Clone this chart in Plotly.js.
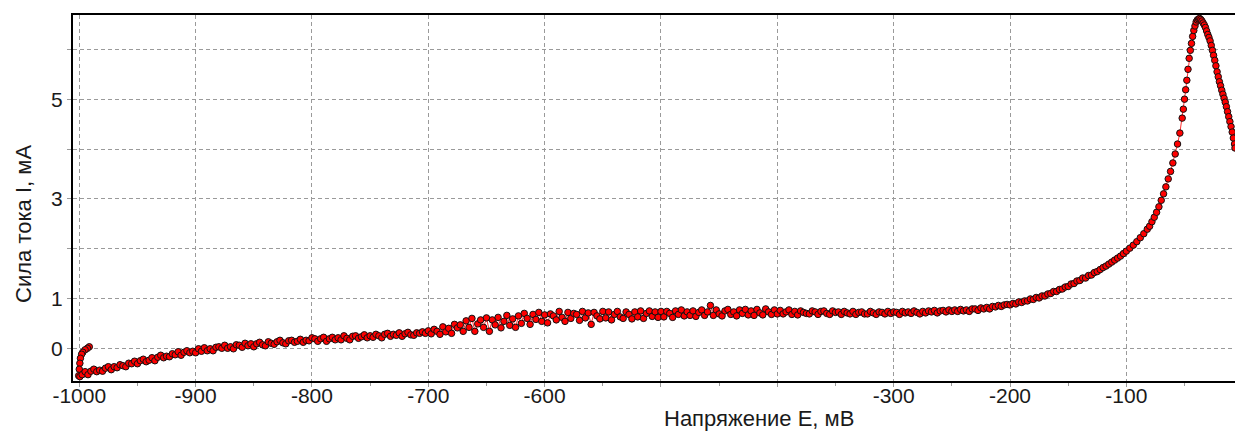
<!DOCTYPE html>
<html>
<head>
<meta charset="utf-8">
<script src="https://cdn.plot.ly/plotly-3.0.1.min.js"></script>
<style>html,body{margin:0;padding:0;background:#fff;}#chart{width:1235px;height:431px;}</style>
</head>
<body>
<div id="chart"></div>
<script>
// Voltage E, mV (scan start branch, then main sweep)
const voltage = [
 -991.4, -993, -995, -997, -998, -999, -999.5, -1000, -1000.5, -999.5,
 -997.5, -995, -992.5, -990, -987.5, -985, -982.5, -980, -977.5, -975,
 -972.5, -970, -967.5, -965, -962.5, -960, -957.5, -955, -952.5, -950,
 -947.5, -945, -942.5, -940, -937.5, -935, -932.5, -930, -927.5, -925,
 -922.5, -920, -917.5, -915, -912.5, -910, -907.5, -905, -902.5, -900,
 -897.5, -895, -892.5, -890, -887.5, -885, -882.5, -880, -877.5, -875,
 -872.5, -870, -867.5, -865, -862.5, -860, -857.5, -855, -852.5, -850,
 -847.5, -845, -842.5, -840, -837.5, -835, -832.5, -830, -827.5, -825,
 -822.5, -820, -817.5, -815, -812.5, -810, -807.5, -805, -802.5, -800,
 -797.5, -795, -792.5, -790, -787.5, -785, -782.5, -780, -777.5, -775,
 -772.5, -770, -767.5, -765, -762.5, -760, -757.5, -755, -752.5, -750,
 -747.5, -745, -742.5, -740, -737.5, -735, -732.5, -730, -727.5, -725,
 -722.5, -720, -717.5, -715, -712.5, -710, -707.5, -705, -702.5, -700,
 -697.5, -695, -692.5, -690, -687.5, -685, -682.5, -680, -677.5, -675,
 -672.5, -670, -667.5, -665, -662.5, -660, -657.5, -655, -652.5, -650,
 -647.5, -645, -642.5, -640, -637.5, -635, -632.5, -630, -627.5, -625,
 -622.5, -620, -617.5, -615, -612.5, -610, -607.5, -605, -602.5, -600,
 -597.5, -595, -592.5, -590, -587.5, -585, -582.5, -580, -577.5, -575,
 -572.5, -570, -567.5, -565, -562.5, -560, -557.5, -555, -552.5, -550,
 -547.5, -545, -542.5, -540, -537.5, -535, -532.5, -530, -527.5, -525,
 -522.5, -520, -517.5, -515, -512.5, -510, -507.5, -505, -502.5, -500,
 -497.5, -495, -492.5, -490, -487.5, -485, -482.5, -480, -477.5, -475,
 -472.5, -470, -467.5, -465, -462.5, -460, -457.5, -455, -452.5, -450,
 -447.5, -445, -442.5, -440, -437.5, -435, -432.5, -430, -427.5, -425,
 -422.5, -420, -417.5, -415, -412.5, -410, -407.5, -405, -402.5, -400,
 -397.5, -395, -392.5, -390, -387.5, -385, -382.5, -380, -377.5, -375,
 -372.5, -370, -367.5, -365, -362.5, -360, -357.5, -355, -352.5, -350,
 -347.5, -345, -342.5, -340, -337.5, -335, -332.5, -330, -327.5, -325,
 -322.5, -320, -317.5, -315, -312.5, -310, -307.5, -305, -302.5, -300,
 -297.5, -295, -292.5, -290, -287.5, -285, -282.5, -280, -277.5, -275,
 -272.5, -270, -267.5, -265, -262.5, -260, -257.5, -255, -252.5, -250,
 -247.5, -245, -242.5, -240, -237.5, -235, -232.5, -230, -227.5, -225,
 -222.5, -220, -217.5, -215, -212.5, -210, -207.5, -205, -202.5, -200,
 -197.5, -195, -192.5, -190, -187.5, -185, -182.5, -180, -177.5, -175,
 -172.5, -170, -167.5, -165, -162.5, -160, -157.5, -155, -152.5, -150,
 -147.5, -145, -142.5, -140, -137.5, -135, -132.5, -130, -127.5, -125,
 -122.5, -120, -117.5, -115, -112.5, -110, -107.5, -105, -102.5, -100,
 -97, -94, -91, -88, -85, -82, -80, -78, -76, -74,
 -72, -70, -68, -66, -64, -62, -60, -58, -56, -54,
 -52, -51, -50, -49, -48, -47, -46, -45, -44, -43,
 -42, -41, -40, -39, -38, -37, -36, -35, -34, -33,
 -32, -31, -30, -29, -28, -27, -26, -25, -24, -23,
 -22, -21, -20, -19, -18, -17, -16, -15, -14, -13,
 -12, -11, -10, -9, -8, -7, -6.6
];
// Current I, mA
const current = [
 0.03, 0.00, -0.03, -0.08, -0.12, -0.20, -0.30, -0.42, -0.55, -0.57,
 -0.53, -0.47, -0.53, -0.46, -0.42, -0.47, -0.44, -0.46, -0.40, -0.37,
 -0.43, -0.37, -0.39, -0.33, -0.35, -0.37, -0.30, -0.31, -0.26, -0.31,
 -0.25, -0.22, -0.27, -0.24, -0.19, -0.25, -0.18, -0.14, -0.19, -0.16,
 -0.17, -0.11, -0.13, -0.07, -0.14, -0.08, -0.05, -0.09, -0.06, -0.09,
 -0.01, -0.06, 0.01, -0.05, -0.01, -0.05, 0.02, 0.03, 0.00, 0.06,
 0.00, 0.03, -0.01, 0.07, 0.06, 0.02, 0.10, 0.05, 0.09, 0.03,
 0.09, 0.12, 0.07, 0.05, 0.13, 0.10, 0.08, 0.13, 0.16, 0.11,
 0.09, 0.15, 0.16, 0.12, 0.14, 0.18, 0.12, 0.16, 0.15, 0.21,
 0.19, 0.14, 0.19, 0.22, 0.14, 0.19, 0.22, 0.17, 0.21, 0.17,
 0.25, 0.20, 0.17, 0.24, 0.25, 0.20, 0.23, 0.27, 0.21, 0.25,
 0.22, 0.28, 0.25, 0.21, 0.28, 0.30, 0.24, 0.28, 0.26, 0.31,
 0.24, 0.29, 0.32, 0.27, 0.26, 0.31, 0.30, 0.33, 0.30, 0.35,
 0.29, 0.38, 0.34, 0.28, 0.43, 0.33, 0.40, 0.30, 0.48, 0.41,
 0.47, 0.34, 0.55, 0.42, 0.60, 0.34, 0.49, 0.57, 0.42, 0.61,
 0.34, 0.57, 0.47, 0.62, 0.41, 0.54, 0.66, 0.46, 0.59, 0.42,
 0.65, 0.50, 0.70, 0.60, 0.48, 0.68, 0.58, 0.72, 0.54, 0.67,
 0.51, 0.69, 0.65, 0.57, 0.74, 0.62, 0.54, 0.72, 0.60, 0.70,
 0.68, 0.56, 0.74, 0.61, 0.71, 0.48, 0.72, 0.65, 0.59, 0.74,
 0.61, 0.73, 0.57, 0.68, 0.74, 0.63, 0.60, 0.73, 0.68, 0.59,
 0.73, 0.63, 0.75, 0.60, 0.70, 0.75, 0.64, 0.73, 0.62, 0.74,
 0.63, 0.74, 0.70, 0.62, 0.75, 0.68, 0.77, 0.65, 0.73, 0.66,
 0.75, 0.64, 0.72, 0.77, 0.66, 0.73, 0.86, 0.66, 0.77, 0.69,
 0.65, 0.75, 0.78, 0.68, 0.73, 0.65, 0.77, 0.70, 0.78, 0.67,
 0.75, 0.66, 0.78, 0.71, 0.67, 0.79, 0.73, 0.68, 0.77, 0.69,
 0.76, 0.69, 0.73, 0.77, 0.68, 0.74, 0.67, 0.75, 0.72, 0.70,
 0.69, 0.75, 0.73, 0.68, 0.74, 0.75, 0.70, 0.68, 0.75, 0.72,
 0.73, 0.68, 0.74, 0.71, 0.69, 0.74, 0.68, 0.72, 0.73, 0.69,
 0.69, 0.74, 0.71, 0.68, 0.73, 0.72, 0.69, 0.74, 0.70, 0.73,
 0.72, 0.68, 0.74, 0.71, 0.73, 0.70, 0.75, 0.72, 0.69, 0.74,
 0.71, 0.75, 0.73, 0.76, 0.71, 0.75, 0.76, 0.73, 0.77, 0.74,
 0.77, 0.74, 0.78, 0.75, 0.77, 0.74, 0.79, 0.79, 0.76, 0.81,
 0.79, 0.82, 0.79, 0.84, 0.83, 0.86, 0.84, 0.87, 0.88, 0.87,
 0.90, 0.89, 0.93, 0.92, 0.95, 0.95, 0.99, 0.98, 1.02, 1.01,
 1.05, 1.05, 1.09, 1.10, 1.14, 1.14, 1.18, 1.19, 1.23, 1.24,
 1.29, 1.30, 1.35, 1.36, 1.41, 1.41, 1.46, 1.47, 1.52, 1.54,
 1.58, 1.62, 1.65, 1.69, 1.73, 1.77, 1.81, 1.85, 1.90, 1.95,
 2.01, 2.07, 2.14, 2.22, 2.30, 2.39, 2.45, 2.54, 2.63, 2.73,
 2.84, 2.97, 3.10, 3.24, 3.40, 3.55, 3.72, 3.90, 4.10, 4.32,
 4.62, 4.80, 5.00, 5.19, 5.38, 5.60, 5.82, 5.98, 6.12, 6.26,
 6.38, 6.47, 6.55, 6.59, 6.61, 6.62, 6.60, 6.57, 6.53, 6.49,
 6.44, 6.37, 6.30, 6.24, 6.17, 6.08, 5.98, 5.88, 5.78, 5.67,
 5.55, 5.45, 5.35, 5.27, 5.18, 5.10, 5.02, 4.94, 4.85, 4.75,
 4.65, 4.55, 4.45, 4.34, 4.22, 4.10, 4.02
];
const xTickVals = [-1000, -900, -800, -700, -600, -500, -400, -300, -200, -100];
const xTickText = ['-1000', '-900', '-800', '-700', '-600', '', '', '-300', '-200', '-100'];
const yTickVals = [0, 1, 2, 3, 4, 5, 6];
const yTickText = ['0', '1', '', '3', '', '5', ''];
const xTitle = 'Напряжение E, мВ';
const yTitle = 'Сила тока I, мА';

const font = 'Liberation Sans, Arial, sans-serif';
const tickFont = {family: font, size: 21, color: '#1a1a1a'};
const titleFont = {family: font, size: 22, color: '#1a1a1a'};
const trace = {
  x: voltage, y: current, type: 'scatter', mode: 'lines+markers',
  line: {color: '#ff3030', width: 1},
  marker: {color: '#ff0000', size: 6.5, symbol: 'circle', line: {color: '#111', width: 1}},
  hoverinfo: 'skip'
};
const layout = {
  width: 1235, height: 431,
  margin: {l: 73, r: 0, t: 15, b: 50, pad: 0},
  paper_bgcolor: '#fff', plot_bgcolor: '#fff',
  showlegend: false,
  font: {family: font, size: 21, color: '#1a1a1a'},
  xaxis: {
    range: [-1005.4, -6.6], tickmode: 'array', tickvals: xTickVals, ticktext: xTickText,
    showgrid: true, gridcolor: '#9a9a9a', gridwidth: 1, griddash: '4px,3px',
    showline: true, linecolor: '#000', linewidth: 2, mirror: true,
    ticks: 'outside', ticklen: 4, tickcolor: '#9a9a9a', tickwidth: 1,
    ticklabelstandoff: -9,
    minor: {dtick: 50, tick0: 0, ticks: 'outside', ticklen: 3, tickcolor: '#9a9a9a', showgrid: false},
    zeroline: false, tickfont: tickFont
  },
  yaxis: {
    range: [-0.657, 6.69], tickmode: 'array', tickvals: yTickVals, ticktext: yTickText,
    showgrid: true, gridcolor: '#9a9a9a', gridwidth: 1, griddash: '4px,3px',
    showline: true, linecolor: '#000', linewidth: 2, mirror: false,
    ticks: 'outside', ticklen: 4, tickcolor: '#9a9a9a', tickwidth: 1,
    zeroline: false, tickfont: tickFont
  },
  annotations: [
    {text: xTitle, xref: 'paper', yref: 'paper', x: 0.5904, y: -0.1038, xanchor: 'center', yanchor: 'middle',
     showarrow: false, font: titleFont},
    {text: yTitle, xref: 'paper', yref: 'paper', x: -0.0422, y: 0.429, xanchor: 'center', yanchor: 'middle',
     textangle: -90, showarrow: false, font: titleFont}
  ]
};
Plotly.newPlot('chart', [trace], layout, {displayModeBar: false, staticPlot: true});
</script>
</body>
</html>
